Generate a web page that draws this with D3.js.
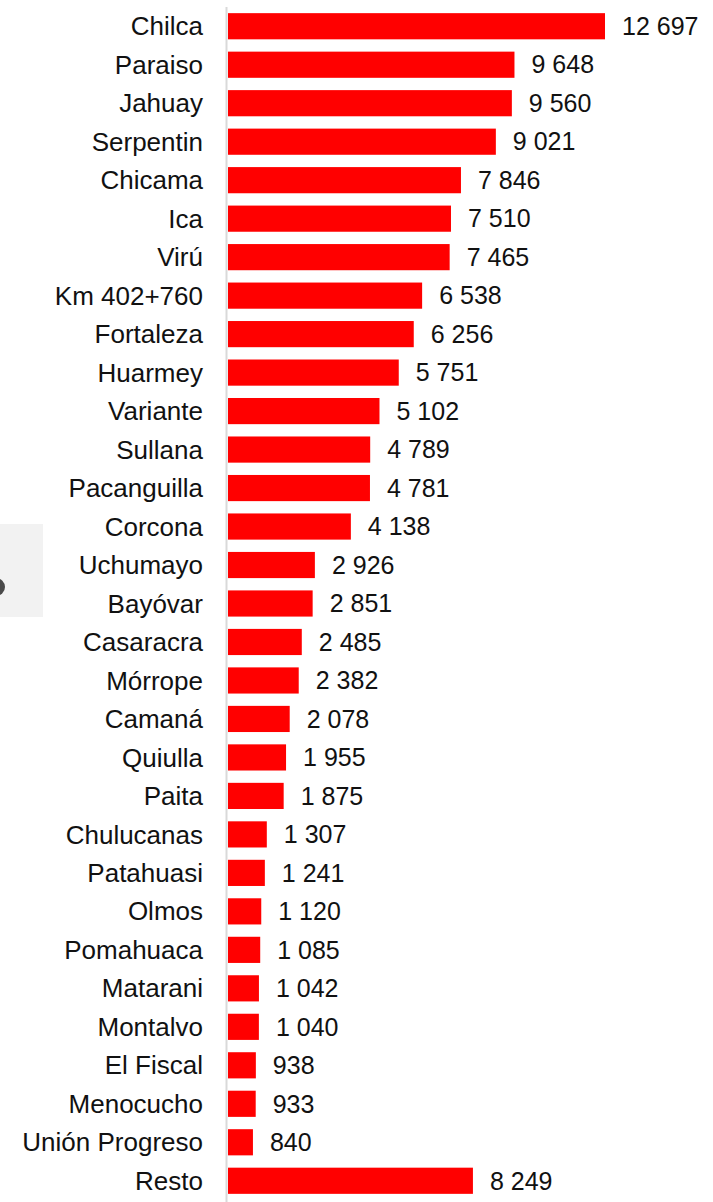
<!DOCTYPE html>
<html>
<head>
<meta charset="utf-8">
<script src="https://cdn.jsdelivr.net/npm/d3@7"></script>
<style>
  html, body { margin: 0; padding: 0; background: #fff; }
  svg { display: block; }
</style>
</head>
<body>
<div id="main"></div>
<script>
const categories = ['Chilca', 'Paraiso', 'Jahuay', 'Serpentin', 'Chicama', 'Ica', 'Virú',
  'Km 402+760', 'Fortaleza', 'Huarmey', 'Variante', 'Sullana', 'Pacanguilla', 'Corcona',
  'Uchumayo', 'Bayóvar', 'Casaracra', 'Mórrope', 'Camaná', 'Quiulla', 'Paita', 'Chulucanas',
  'Patahuasi', 'Olmos', 'Pomahuaca', 'Matarani', 'Montalvo', 'El Fiscal', 'Menocucho',
  'Unión Progreso', 'Resto'];
const values = [12697, 9648, 9560, 9021, 7846, 7510, 7465, 6538, 6256, 5751, 5102, 4789,
  4781, 4138, 2926, 2851, 2485, 2382, 2078, 1955, 1875, 1307, 1241, 1120, 1085, 1042,
  1040, 938, 933, 840, 8249];

const data = categories.map((c, i) => ({ name: c, value: values[i] }));

const W = 713, H = 1202;
const x0 = 228;
const font = "'Liberation Sans', Arial, sans-serif";

let svg = d3.select('#main')
  .append('svg')
  .attr('width', W)
  .attr('height', H);

// grey box with the clipped dark dot on the left edge
svg.append('rect')
  .attr('x', 0).attr('y', 524)
  .attr('width', 43).attr('height', 93)
  .attr('fill', '#f2f2f2');
svg.append('circle')
  .attr('cx', -4).attr('cy', 587).attr('r', 9)
  .attr('fill', '#4a4a4a');

const y = d3.scaleBand()
  .domain(categories)
  .range([7, 1200])
  .paddingInner(0.32)
  .paddingOuter(0.16);

const x = d3.scaleLinear()
  .domain([0, 12697])
  .range([x0, 605]);

// axis line
svg.append('line')
  .attr('x1', x0 - 1.5).attr('x2', x0 - 1.5)
  .attr('y1', 7).attr('y2', H)
  .attr('stroke', '#d9d9d9')
  .attr('stroke-width', 2);

svg.selectAll('rect.bar')
  .data(data)
  .enter()
  .append('rect')
    .attr('class', 'bar')
    .attr('x', x0)
    .attr('y', d => y(d.name))
    .attr('width', d => x(d.value) - x0)
    .attr('height', y.bandwidth())
    .attr('fill', '#ff0000');

const fmt = v => d3.format(',')(v).replace(/,/g, ' ');

svg.selectAll('text.cat')
  .data(data)
  .enter()
  .append('text')
    .attr('class', 'cat')
    .attr('x', 203)
    .attr('y', d => y(d.name) + y.bandwidth() / 2)
    .attr('dy', '0.35em')
    .attr('text-anchor', 'end')
    .attr('font-family', font)
    .attr('font-size', 26)
    .attr('fill', '#111')
    .text(d => d.name);

svg.selectAll('text.val')
  .data(data)
  .enter()
  .append('text')
    .attr('class', 'val')
    .attr('x', d => x(d.value) + 17)
    .attr('y', d => y(d.name) + y.bandwidth() / 2)
    .attr('dy', '0.35em')
    .attr('font-family', font)
    .attr('font-size', 25)
    .attr('fill', '#111')
    .text(d => fmt(d.value));
</script>
</body>
</html>
